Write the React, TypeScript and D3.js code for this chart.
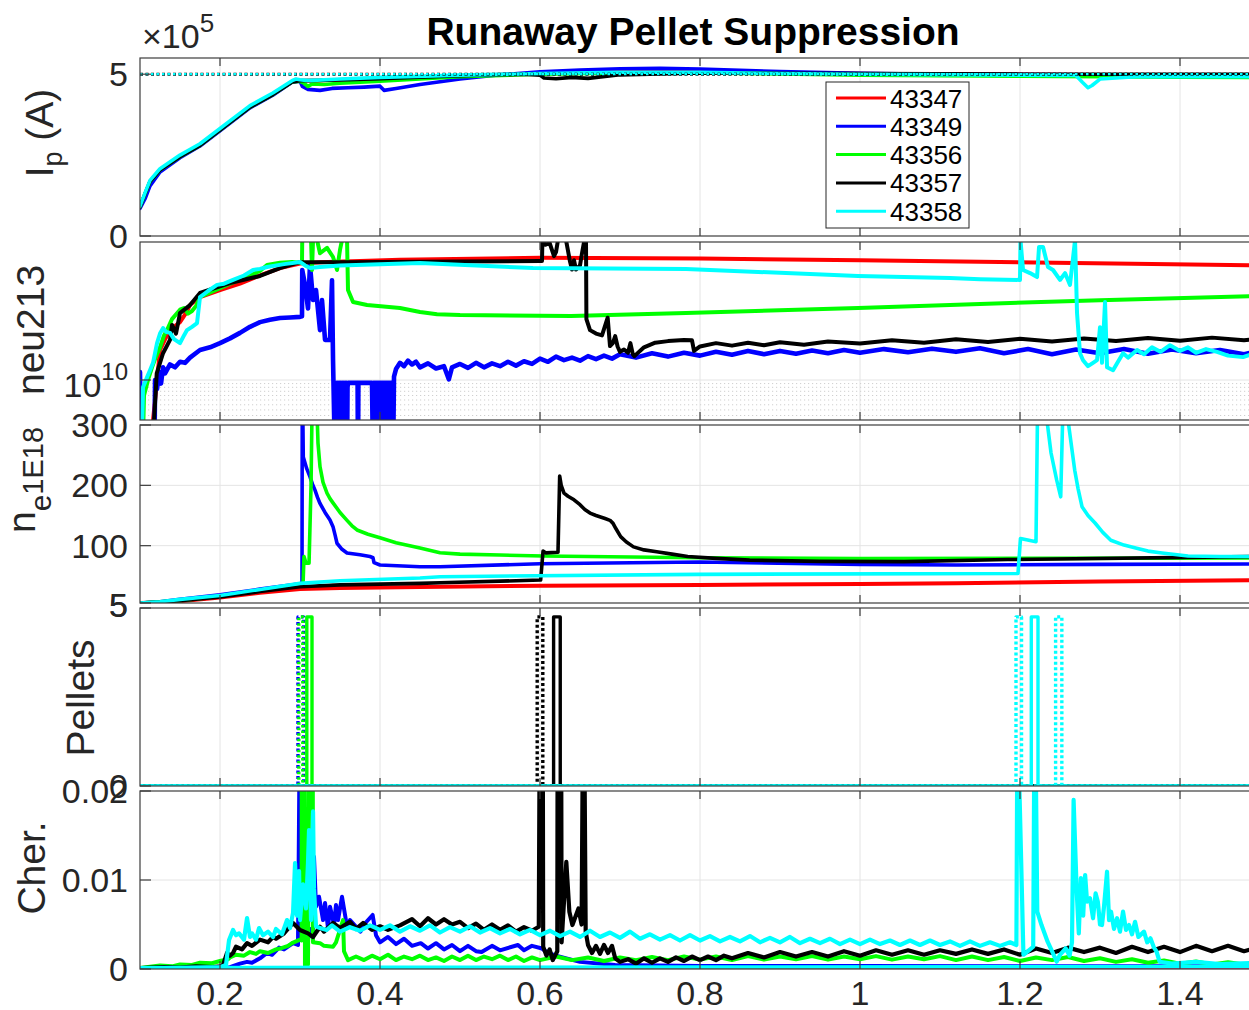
import React, { useEffect, useRef } from 'react';
import * as d3 from 'd3';

type Pt = [number, number];

const shots = ['43347', '43349', '43356', '43357', '43358'];
const shotColors = ['#ff0000', '#0000ff', '#00ff00', '#000000', '#00ffff'];
const xTickValues = [0.2, 0.4, 0.6, 0.8, 1, 1.2, 1.4];
const xTickLabels = ['0.2', '0.4', '0.6', '0.8', '1', '1.2', '1.4'];

// ---------- Panel 1: plasma current (units of 1e5 A) ----------
const ipRed: Pt[] = [[0.1,0.9],[0.1063,1.3],[0.1125,1.68],[0.125,2.04],[0.15,2.45],[0.175,2.8],[0.2,3.27],[0.2375,3.98],[0.266,4.37],[0.29,4.76],[0.3,4.79],[0.31,4.78],[0.35,4.83],[0.4,4.88],[0.5,4.95],[0.6,5.02],[0.7,5.07],[0.8,5.08],[0.9,5.05],[1.0,5.02],[1.1,5.0],[1.2,5.0],[1.3,4.98],[1.4,4.97],[1.5,4.95]];
const ipBlue: Pt[] = [[0.1,0.85],[0.1063,1.15],[0.1125,1.55],[0.125,1.98],[0.15,2.42],[0.175,2.78],[0.2,3.25],[0.2375,3.96],[0.266,4.35],[0.29,4.75],[0.3,4.78],[0.303,4.62],[0.31,4.53],[0.325,4.5],[0.34,4.56],[0.36,4.58],[0.38,4.6],[0.4,4.63],[0.405,4.5],[0.42,4.56],[0.45,4.68],[0.5,4.85],[0.55,4.98],[0.6,5.07],[0.65,5.13],[0.7,5.17],[0.75,5.18],[0.8,5.16],[0.85,5.12],[0.9,5.08],[1.0,5.03],[1.1,5.0],[1.2,4.99],[1.3,4.98],[1.4,4.97],[1.5,4.96]];
const ipGreen: Pt[] = [[0.1,0.9],[0.1063,1.3],[0.1125,1.68],[0.125,2.04],[0.15,2.45],[0.175,2.8],[0.2,3.27],[0.2375,3.98],[0.266,4.37],[0.29,4.76],[0.3,4.78],[0.305,4.72],[0.31,4.62],[0.315,4.7],[0.33,4.68],[0.35,4.72],[0.4,4.78],[0.45,4.85],[0.5,4.92],[0.6,5.0],[0.7,5.04],[0.8,5.04],[0.9,5.01],[1.0,4.97],[1.2,4.94],[1.4,4.91],[1.5,4.9]];
const ipBlack: Pt[] = [[0.1,0.9],[0.1063,1.3],[0.1125,1.68],[0.125,2.04],[0.15,2.45],[0.175,2.8],[0.2,3.27],[0.2375,3.98],[0.266,4.37],[0.29,4.76],[0.3,4.8],[0.35,4.82],[0.4,4.86],[0.5,4.95],[0.58,5.0],[0.6,4.97],[0.605,4.88],[0.62,4.86],[0.64,4.9],[0.66,4.87],[0.7,4.98],[0.8,5.04],[0.9,5.03],[1.0,5.02],[1.2,5.0],[1.5,5.0]];
const ipCyan: Pt[] = [[0.1,0.92],[0.1063,1.33],[0.1125,1.72],[0.125,2.08],[0.15,2.5],[0.175,2.85],[0.2,3.32],[0.2375,4.03],[0.266,4.42],[0.29,4.8],[0.295,4.85],[0.3,4.83],[0.31,4.8],[0.35,4.85],[0.4,4.9],[0.5,4.97],[0.6,5.02],[0.7,5.06],[0.8,5.06],[0.9,5.02],[1.0,5.0],[1.2,4.97],[1.27,4.96],[1.278,4.75],[1.285,4.58],[1.29,4.65],[1.3,4.85],[1.35,4.93],[1.5,4.92]];
const ipTarget: Pt[] = [[0.1,5],[1.5,5]];

// ---------- Panel 2: neu213 (units of 1e10, log axis) ----------
const neuRed: Pt[] = [[0.1,0.3],[0.116,0.3],[0.1163,0.56],[0.1213,1.0],[0.125,1.54],[0.131,1.78],[0.1375,2.05],[0.15,2.3],[0.156,2.55],[0.1625,2.94],[0.175,3.3],[0.2,3.65],[0.225,4.0],[0.25,4.5],[0.275,5.0],[0.3,5.35],[0.325,5.45],[0.425,5.65],[0.6,5.8],[0.8,5.75],[1.0,5.6],[1.175,5.47],[1.5,5.2]];
const neuBlue: Pt[] = [[0.1,1.12],[0.1013,0.3],[0.118,0.3],[0.1188,1.0],[0.1213,0.88],[0.1238,1.12],[0.1263,0.95],[0.1288,1.2],[0.1313,1.1],[0.1375,1.25],[0.1438,1.2],[0.15,1.3],[0.1563,1.28],[0.1625,1.38],[0.175,1.54],[0.1875,1.6],[0.2,1.7],[0.2125,1.82],[0.225,1.97],[0.2375,2.15],[0.25,2.3],[0.2625,2.38],[0.275,2.44],[0.2875,2.46],[0.3,2.48],[0.3025,2.5],[0.3028,4.87],[0.3063,3.93],[0.31,2.8],[0.3125,5.2],[0.3163,3.16],[0.32,3.65],[0.325,2.05],[0.3275,3.16],[0.3313,1.78],[0.3375,1.78],[0.34,4.2],[0.3413,1.33],[0.3438,0.3],[0.3444,0.96],[0.345,0.3],[0.3456,0.9],[0.3463,0.3],[0.3469,0.96],[0.3475,0.3],[0.3481,0.85],[0.3488,0.3],[0.3494,0.96],[0.35,0.3],[0.3506,0.96],[0.3513,0.3],[0.3519,0.9],[0.3525,0.3],[0.3531,0.96],[0.3538,0.3],[0.3544,0.96],[0.355,0.3],[0.3556,0.8],[0.3563,0.3],[0.3569,0.96],[0.3575,0.3],[0.3581,0.96],[0.3588,0.3],[0.3594,0.9],[0.36,0.96],[0.372,0.96],[0.3725,0.3],[0.373,0.96],[0.39,0.96],[0.3913,0.3],[0.3919,0.96],[0.3925,0.3],[0.3931,0.96],[0.3938,0.3],[0.3944,0.96],[0.395,0.3],[0.3956,0.96],[0.3963,0.3],[0.3969,0.96],[0.3975,0.3],[0.3981,0.96],[0.3988,0.3],[0.3994,0.96],[0.4,0.3],[0.4006,0.96],[0.4013,0.3],[0.4019,0.96],[0.4025,0.3],[0.4031,0.96],[0.4038,0.3],[0.4044,0.96],[0.405,0.3],[0.4056,0.96],[0.4063,0.3],[0.4069,0.96],[0.4075,0.3],[0.4081,0.96],[0.4088,0.3],[0.4094,0.96],[0.41,0.3],[0.4106,0.96],[0.4113,0.3],[0.4119,0.96],[0.4125,0.3],[0.4131,0.96],[0.4138,0.3],[0.4144,0.96],[0.415,0.3],[0.4156,0.96],[0.4163,0.3],[0.4175,1.05],[0.42,1.17],[0.425,1.28],[0.43,1.22],[0.435,1.32],[0.44,1.25],[0.445,1.3],[0.45,1.2],[0.46,1.27],[0.47,1.18],[0.48,1.22],[0.486,1.01],[0.49,1.2],[0.5,1.26],[0.51,1.19],[0.52,1.28],[0.53,1.2],[0.54,1.27],[0.55,1.22],[0.56,1.3],[0.57,1.23],[0.58,1.31],[0.59,1.26],[0.6,1.36],[0.61,1.3],[0.62,1.4],[0.63,1.33],[0.64,1.38],[0.65,1.32],[0.66,1.41],[0.67,1.35],[0.68,1.42],[0.69,1.36],[0.7,1.45],[0.72,1.38],[0.74,1.47],[0.76,1.4],[0.78,1.48],[0.8,1.42],[0.82,1.5],[0.84,1.44],[0.86,1.52],[0.88,1.45],[0.9,1.52],[0.92,1.46],[0.94,1.53],[0.96,1.47],[0.98,1.54],[1.0,1.48],[1.03,1.56],[1.06,1.49],[1.09,1.57],[1.12,1.5],[1.15,1.58],[1.18,1.47],[1.21,1.56],[1.24,1.45],[1.27,1.55],[1.3,1.47],[1.33,1.56],[1.36,1.46],[1.39,1.55],[1.42,1.47],[1.45,1.54],[1.48,1.45],[1.5,1.52]];
const neuGreen: Pt[] = [[0.1,0.3],[0.103,0.3],[0.105,0.8],[0.11,1.0],[0.115,1.2],[0.12,1.4],[0.125,1.6],[0.13,1.9],[0.1338,2.05],[0.14,2.4],[0.15,2.75],[0.155,2.82],[0.16,2.6],[0.165,2.7],[0.17,2.9],[0.175,3.3],[0.2,3.75],[0.2125,4.0],[0.225,4.22],[0.25,4.8],[0.2588,5.23],[0.275,5.4],[0.29,5.47],[0.3,5.4],[0.3025,5.47],[0.3028,7.5],[0.3138,7.5],[0.315,4.87],[0.3163,7.5],[0.3213,7.5],[0.325,6.2],[0.3338,6.7],[0.3413,5.87],[0.3463,4.87],[0.35,6.5],[0.3525,7.5],[0.3588,7.5],[0.36,3.65],[0.3663,3.07],[0.3838,2.94],[0.425,2.82],[0.45,2.66],[0.4713,2.58],[0.5,2.55],[0.6388,2.51],[0.7825,2.62],[0.9975,2.82],[1.1125,2.94],[1.15,2.99],[1.3,3.15],[1.5,3.35]];
const neuBlack: Pt[] = [[0.1,0.3],[0.1146,0.3],[0.1209,1.1],[0.1288,1.47],[0.1375,1.78],[0.14,2.21],[0.145,1.95],[0.15,2.62],[0.1625,2.94],[0.175,3.5],[0.2125,4.04],[0.25,4.47],[0.275,5.0],[0.3,5.45],[0.35,5.45],[0.5,5.5],[0.6,5.55],[0.6025,5.55],[0.603,7.5],[0.607,7.0],[0.612,7.2],[0.6175,5.95],[0.62,6.3],[0.6225,7.5],[0.6325,7.5],[0.6375,5.5],[0.64,4.9],[0.6425,5.6],[0.645,4.9],[0.65,5.2],[0.6525,6.2],[0.6555,7.5],[0.6575,7.5],[0.658,2.4],[0.6625,2.05],[0.67,1.95],[0.6775,1.9],[0.6846,2.45],[0.6875,1.63],[0.691,1.7],[0.694,1.88],[0.697,1.62],[0.7,1.5],[0.705,1.55],[0.71,1.48],[0.713,1.7],[0.716,1.45],[0.718,1.41],[0.73,1.6],[0.744,1.71],[0.76,1.75],[0.78,1.78],[0.79,1.77],[0.7925,1.52],[0.8,1.62],[0.82,1.7],[0.84,1.64],[0.86,1.71],[0.88,1.65],[0.9,1.72],[0.93,1.66],[0.96,1.74],[1.0,1.69],[1.04,1.77],[1.08,1.71],[1.12,1.8],[1.16,1.73],[1.2,1.81],[1.24,1.74],[1.28,1.82],[1.32,1.75],[1.36,1.83],[1.4,1.76],[1.44,1.84],[1.48,1.77],[1.5,1.82]];
const neuCyan: Pt[] = [[0.1,0.3],[0.1015,0.3],[0.1038,0.9],[0.1088,1.04],[0.1125,1.15],[0.1163,1.28],[0.1213,1.7],[0.125,1.95],[0.1288,2.11],[0.1325,2.0],[0.1375,1.97],[0.1425,1.8],[0.15,1.7],[0.155,1.9],[0.1588,2.05],[0.165,2.15],[0.1713,2.27],[0.175,3.3],[0.185,3.6],[0.1963,3.93],[0.205,4.0],[0.2163,4.22],[0.23,4.5],[0.2413,4.87],[0.25,4.95],[0.2588,5.08],[0.28,5.3],[0.3,5.47],[0.3063,5.2],[0.3125,5.01],[0.325,5.08],[0.35,5.2],[0.45,5.38],[0.5913,5.01],[0.7825,4.94],[0.9975,4.47],[1.1125,4.34],[1.15,4.27],[1.2,4.22],[1.2006,7.5],[1.2038,4.87],[1.2125,4.66],[1.2213,4.4],[1.2238,6.78],[1.2288,6.78],[1.235,5.08],[1.2413,4.87],[1.25,4.22],[1.2563,4.66],[1.2625,3.93],[1.2688,7.5],[1.2713,2.62],[1.275,1.47],[1.2788,1.33],[1.285,1.22],[1.2913,1.28],[1.2963,1.33],[1.3,2.14],[1.3025,1.28],[1.3063,3.07],[1.3088,1.2],[1.3163,1.15],[1.3225,1.3],[1.3288,1.47],[1.335,1.38],[1.3463,1.54],[1.355,1.45],[1.365,1.6],[1.3755,1.5],[1.3875,1.65],[1.4,1.52],[1.41,1.6],[1.42,1.48],[1.4325,1.56],[1.4463,1.5],[1.46,1.42],[1.4788,1.39],[1.49,1.45],[1.5,1.4]];

// ---------- Panel 3: density (1e18 m^-3) ----------
const neRed: Pt[] = [[0.1,5],[0.125,6],[0.15,8],[0.2,14],[0.25,22],[0.3,28],[0.35,30],[0.45,31.5],[0.6,33.5],[0.8,34.8],[1.0,36.5],[1.12,37.6],[1.3,40.5],[1.5,43]];
const neBlue: Pt[] = [[0.1,5],[0.125,7],[0.15,11],[0.2,18.5],[0.25,28],[0.3,37],[0.3025,38],[0.3028,320],[0.3035,320],[0.3041,247],[0.3083,228],[0.3125,214],[0.3156,202],[0.31875,192],[0.3219,180],[0.325,170],[0.3313,155],[0.3375,142.5],[0.34125,131.5],[0.3438,118],[0.34625,104],[0.3525,94],[0.35875,88],[0.375,85],[0.3875,82],[0.39125,80],[0.3925,72],[0.4,68],[0.45,65],[0.475,65.2],[0.6,70],[0.8,73],[1.0,69],[1.12,68],[1.3,69],[1.5,69.6]];
const neGreen: Pt[] = [[0.1,5],[0.15,9],[0.2,16],[0.25,26],[0.3,35],[0.3038,36],[0.305,82],[0.3075,71],[0.3113,71],[0.3138,200],[0.315,320],[0.3213,320],[0.3225,270],[0.325,231],[0.3288,205],[0.33375,187],[0.3375,178],[0.34125,171],[0.35,155],[0.35875,142],[0.365,133],[0.37125,126],[0.385,119],[0.4,113],[0.42,105],[0.45,96],[0.475,88.4],[0.5,86],[0.55,84.5],[0.604,83],[0.7975,80],[1.0,78.5],[1.2,79],[1.5,79.5]];
const neBlack: Pt[] = [[0.1,5],[0.125,6.5],[0.15,9],[0.2,15],[0.25,24],[0.3,32],[0.35,35],[0.45,37.5],[0.475,38.6],[0.6008,43],[0.6038,91],[0.6075,88],[0.6225,89],[0.6246,215.5],[0.6265,200],[0.63,187],[0.635,182],[0.6425,176],[0.65,168],[0.656,160],[0.6625,154],[0.67,150],[0.6813,145],[0.6875,142],[0.6913,137],[0.695,128],[0.7008,115],[0.708,106],[0.7169,98],[0.73,93],[0.7459,90],[0.765,86],[0.7846,82],[0.82,79],[0.862,76],[0.95,74],[1.055,73.5],[1.1845,77],[1.5,82]];
const neCyan: Pt[] = [[0.1,5],[0.125,7],[0.15,11],[0.2,17.5],[0.25,27.5],[0.3,37.5],[0.35,42],[0.45,46.5],[0.475,48.6],[0.7975,52.5],[1.1975,54],[1.2006,112],[1.22,106.6],[1.2219,320],[1.2325,320],[1.2388,253.6],[1.2458,209],[1.2509,181],[1.2535,320],[1.2588,320],[1.2684,225],[1.2725,195],[1.2775,164.6],[1.285,150],[1.2938,137.6],[1.3035,122],[1.3135,109],[1.33,101],[1.3458,95.6],[1.36,91],[1.3775,88],[1.41,83],[1.45,82],[1.5,82]];

// ---------- Panel 4: pellets (solid = fired, dotted = requested) ----------
const pelRedSolid: Pt[] = [[0.1,0],[1.5,0]];
const pelBlueSolid: Pt[] = [[0.1,0],[1.5,0]];
const pelBlueDot: Pt[] = [[0.1,0],[0.2975,0],[0.2975,4.75],[0.3045,4.75],[0.3045,0],[1.5,0]];
const pelGreenSolid: Pt[] = [[0.1,0],[0.3085,0],[0.3085,4.75],[0.315,4.75],[0.315,0],[1.5,0]];
const pelGreenDot: Pt[] = [[0.1,0],[0.2985,0],[0.2985,4.75],[0.3035,4.75],[0.3035,0],[1.5,0]];
const pelBlackSolid: Pt[] = [[0.1,0],[0.617,0],[0.617,4.75],[0.6253,4.75],[0.6253,0],[1.5,0]];
const pelBlackDot: Pt[] = [[0.1,0],[0.5965,0],[0.5965,4.75],[0.6035,4.75],[0.6035,0],[1.5,0]];
const pelCyanSolid: Pt[] = [[0.1,0],[1.2141,0],[1.2141,4.75],[1.2225,4.75],[1.2225,0],[1.5,0]];
const pelCyanDot: Pt[] = [[0.1,0],[1.195,0],[1.195,4.75],[1.2019,4.75],[1.2019,0],[1.2445,0],[1.2445,4.75],[1.2523,4.75],[1.2523,0],[1.5,0]];

// ---------- Panel 5: Cherenkov (values x 1e-3) ----------
const cherRed: Pt[] = [[0.1,0.1],[0.3,0.12],[0.6,0.1],[0.9,0.12],[1.2,0.2],[1.5,0.25]];
const cherBlue: Pt[] = [[0.1,0.1],[0.2,0.1],[0.2125,0.2],[0.225,0.6],[0.2338,0.8],[0.24,0.7],[0.25,1.2],[0.2588,1.8],[0.265,1.6],[0.2738,2.4],[0.28,2.2],[0.2913,2.9],[0.2975,2.7],[0.2995,25],[0.3035,25],[0.304,5.0],[0.31,3.3],[0.3125,4.5],[0.3163,3.5],[0.3175,12.6],[0.32,7.0],[0.3238,8.12],[0.3288,5.5],[0.3313,7.42],[0.335,4.6],[0.3375,7.0],[0.3425,5.0],[0.345,7.2],[0.3475,5.5],[0.3525,8.12],[0.3588,4.75],[0.3625,5.5],[0.3756,4.2],[0.38,5.0],[0.3908,6.07],[0.395,3.8],[0.4,3.0],[0.41,3.6],[0.42,2.8],[0.43,3.4],[0.44,2.6],[0.451,2.9],[0.46,2.3],[0.47,2.9],[0.48,2.2],[0.49,2.7],[0.5,2.0],[0.51,2.6],[0.52,2.0],[0.527,1.9],[0.54,2.6],[0.55,2.1],[0.5725,2.7],[0.58,2.1],[0.59,2.6],[0.6025,2.3],[0.61,1.8],[0.62,1.5],[0.633,1.2],[0.65,0.8],[0.694,0.45],[0.8,0.35],[1.0,0.35],[1.2,0.3],[1.5,0.3]];
const cherGreen: Pt[] = [[0.1,0.1],[0.125,0.4],[0.14,0.3],[0.15,0.5],[0.165,0.45],[0.175,0.7],[0.19,0.65],[0.2,0.9],[0.21,1.1],[0.2125,1.3],[0.22,1.6],[0.23,1.5],[0.2375,1.9],[0.245,1.7],[0.25,2.0],[0.26,1.8],[0.27,2.2],[0.275,2.3],[0.285,2.6],[0.29,2.9],[0.3,3.3],[0.302,3.2],[0.3022,25],[0.306,25],[0.3062,0.4],[0.31,0.5],[0.3115,25],[0.316,25],[0.3162,3.0],[0.325,2.9],[0.33,2.6],[0.3413,2.5],[0.345,3.0],[0.3538,5.5],[0.355,2.0],[0.36,1.0],[0.37,1.4],[0.38,1.0],[0.39,1.5],[0.4,1.1],[0.41,1.6],[0.42,1.0],[0.43,1.4],[0.44,1.1],[0.45,1.5],[0.46,1.0],[0.47,1.3],[0.48,0.9],[0.49,1.4],[0.5,1.0],[0.51,1.5],[0.52,1.0],[0.53,1.4],[0.54,1.1],[0.55,1.5],[0.56,1.0],[0.57,1.4],[0.58,0.9],[0.59,1.3],[0.6,1.0],[0.62,1.4],[0.64,1.0],[0.66,1.3],[0.68,0.9],[0.7,1.3],[0.72,1.0],[0.74,1.35],[0.76,1.0],[0.78,1.4],[0.8,1.05],[0.82,1.4],[0.84,1.0],[0.86,1.45],[0.88,1.05],[0.9,1.4],[0.92,1.1],[0.94,1.45],[0.96,1.05],[0.98,1.4],[1.0,1.1],[1.02,1.45],[1.04,1.05],[1.06,1.4],[1.08,1.1],[1.1,1.45],[1.12,1.0],[1.14,1.4],[1.16,1.0],[1.18,1.35],[1.2,0.9],[1.22,1.3],[1.24,1.0],[1.26,1.35],[1.28,0.9],[1.3,1.2],[1.32,0.8],[1.34,1.1],[1.36,0.7],[1.38,0.95],[1.4,0.6],[1.42,0.85],[1.44,0.5],[1.46,0.75],[1.48,0.5],[1.5,0.7]];
const cherBlack: Pt[] = [[0.1,0.1],[0.13,0.2],[0.15,0.15],[0.17,0.3],[0.19,0.2],[0.2,0.3],[0.2038,0.45],[0.2088,1.8],[0.2125,1.5],[0.2163,1.8],[0.22,2.5],[0.2275,2.2],[0.2338,2.9],[0.24,2.6],[0.25,3.3],[0.26,3.0],[0.2663,3.6],[0.27,3.4],[0.28,4.0],[0.2913,5.17],[0.3,4.38],[0.31,4.0],[0.3163,3.6],[0.325,4.75],[0.33,4.2],[0.3413,5.17],[0.35,4.6],[0.3625,5.3],[0.37,4.5],[0.3788,5.17],[0.39,4.4],[0.4,4.8],[0.41,4.4],[0.425,4.9],[0.44,5.6],[0.45,4.8],[0.46,5.7],[0.47,5.0],[0.48,5.6],[0.49,5.0],[0.5,5.3],[0.51,4.6],[0.52,5.1],[0.53,4.4],[0.54,5.0],[0.55,4.4],[0.56,4.9],[0.57,4.2],[0.58,4.7],[0.59,4.3],[0.5985,4.75],[0.5995,25],[0.6035,25],[0.604,2.5],[0.608,1.5],[0.612,2.2],[0.616,1.0],[0.6216,2.0],[0.622,25],[0.6265,25],[0.627,3.0],[0.6329,12.05],[0.6367,6.44],[0.6405,4.94],[0.6481,6.8],[0.652,5.0],[0.6535,25],[0.6555,25],[0.6571,4.2],[0.66,2.7],[0.665,1.8],[0.67,2.6],[0.675,1.7],[0.68,2.7],[0.685,1.8],[0.69,2.6],[0.694,1.2],[0.7,0.8],[0.71,1.1],[0.72,0.6],[0.73,1.2],[0.74,0.7],[0.75,1.2],[0.76,0.8],[0.77,1.3],[0.78,0.9],[0.79,1.4],[0.8,1.0],[0.81,1.4],[0.82,1.0],[0.83,1.5],[0.84,1.2],[0.86,1.8],[0.88,1.3],[0.9,1.9],[0.92,1.4],[0.94,1.9],[0.96,1.4],[0.98,2.0],[1.0,1.5],[1.02,2.1],[1.04,1.6],[1.06,2.1],[1.08,1.6],[1.1,2.1],[1.12,1.7],[1.14,2.2],[1.16,1.7],[1.18,2.2],[1.2,1.6],[1.22,2.3],[1.24,1.8],[1.26,2.4],[1.28,1.9],[1.3,2.4],[1.32,1.8],[1.34,2.5],[1.36,1.9],[1.38,2.5],[1.4,1.9],[1.42,2.6],[1.44,2.0],[1.46,2.6],[1.48,2.0],[1.5,2.5]];
const cherCyan: Pt[] = [[0.1,0.1],[0.15,0.12],[0.2,0.2],[0.2075,0.45],[0.2113,3.26],[0.2163,4.38],[0.22,3.8],[0.2238,4.0],[0.23,3.3],[0.2338,5.73],[0.2375,3.6],[0.24,4.0],[0.245,3.3],[0.2488,4.6],[0.2538,3.8],[0.26,4.2],[0.2663,3.6],[0.27,4.5],[0.2775,3.9],[0.2838,5.5],[0.2875,4.6],[0.2913,6.3],[0.2938,11.9],[0.2963,6.0],[0.2988,11.0],[0.3,5.5],[0.3038,9.5],[0.3075,6.8],[0.31,11.9],[0.3113,15.6],[0.3138,5.5],[0.3163,17.7],[0.3175,9.0],[0.32,4.8],[0.325,4.6],[0.3333,4.38],[0.34,4.9],[0.35,4.2],[0.3625,4.7],[0.375,4.3],[0.3875,4.9],[0.4,4.4],[0.4125,4.9],[0.425,4.2],[0.4375,4.8],[0.45,4.3],[0.4625,4.9],[0.475,4.1],[0.4875,4.7],[0.5,4.2],[0.5125,4.8],[0.525,4.1],[0.5375,4.6],[0.55,4.0],[0.5625,4.5],[0.575,3.9],[0.5875,4.4],[0.6,3.8],[0.6125,4.3],[0.625,3.7],[0.6375,4.2],[0.65,3.6],[0.6625,4.3],[0.675,3.6],[0.6875,4.1],[0.7,3.5],[0.7125,4.2],[0.725,3.4],[0.7375,3.9],[0.75,3.3],[0.7625,3.8],[0.775,3.2],[0.7875,3.8],[0.8,3.2],[0.8125,3.7],[0.825,3.1],[0.8375,3.6],[0.85,3.1],[0.8625,3.7],[0.875,3.0],[0.8875,3.5],[0.9,3.0],[0.9125,3.6],[0.925,2.9],[0.9375,3.4],[0.95,2.9],[0.9625,3.4],[0.975,2.8],[0.9875,3.3],[1.0,2.8],[1.0125,3.3],[1.025,2.8],[1.0375,3.2],[1.05,2.7],[1.0625,3.2],[1.075,2.7],[1.0875,3.2],[1.1,2.7],[1.1125,3.1],[1.125,2.6],[1.1375,3.1],[1.15,2.6],[1.1625,3.0],[1.175,2.6],[1.1875,3.0],[1.1955,2.7],[1.1966,25],[1.198,25],[1.2043,1.6],[1.21,2.0],[1.2165,2.5],[1.2179,25],[1.2195,25],[1.2216,6.44],[1.2269,4.94],[1.2345,3.07],[1.24,2.0],[1.2459,0.82],[1.25,1.6],[1.2571,2.33],[1.262,1.5],[1.265,3.0],[1.267,19.0],[1.2709,8.7],[1.2735,4.0],[1.2761,10.2],[1.279,6.0],[1.2814,10.56],[1.2838,7.56],[1.2875,7.94],[1.2913,5.7],[1.2945,8.5],[1.2973,7.56],[1.3,5.0],[1.3025,4.94],[1.305,7.0],[1.3088,10.93],[1.3113,5.5],[1.3138,6.44],[1.3175,4.5],[1.3213,5.7],[1.325,4.2],[1.3288,6.44],[1.3325,4.4],[1.3363,4.94],[1.34,3.9],[1.3438,5.3],[1.348,3.6],[1.355,4.2],[1.359,3.0],[1.3631,3.45],[1.3675,2.4],[1.3706,1.97],[1.3745,0.82],[1.39,0.6],[1.42,0.8],[1.45,0.55],[1.5,0.7]];
const cherCyanBase: Pt[] = [[0.1,0.15],[0.4,0.2],[0.8,0.22],[1.2,0.25],[1.5,0.3]];

const FONT = "'Liberation Sans', Arial, Helvetica, sans-serif";
const TXT = '#262626';

export default function App() {
  const ref = useRef<SVGSVGElement>(null);

  useEffect(() => {
    const svg = d3.select(ref.current as SVGSVGElement);
    svg.selectAll('*').remove();

    const L = 140, R = 1260;
    const x = d3.scaleLinear().domain([0.1, 1.5]).range([L, R]);

    const yIp = d3.scaleLinear().domain([0, 5.5]).range([236, 58]);
    const yNeu = d3.scaleLog().domain([Math.pow(10, -0.25), Math.pow(10, 0.8625)]).range([420, 242]);
    const yNe = d3.scaleLinear().domain([5, 300]).range([603, 425]);
    const yPel = d3.scaleLinear().domain([0, 5]).range([786, 608]);
    const yCher = d3.scaleLinear().domain([0, 0.02]).range([969, 791]);

    // labelShift nudges the two coinciding "5" labels at the ne/pellet boundary onto one spot
    const panels = [
      { id: 'ip', y: yIp, top: 58, bottom: 236, ticks: [0, 5], labels: ['0', '5'], labelShift: [0, 0], grid: [] as number[] },
      { id: 'neu', y: yNeu, top: 242, bottom: 420, ticks: [1], labels: ['10^10'], labelShift: [0], grid: [1] },
      { id: 'ne', y: yNe, top: 425, bottom: 603, ticks: [5, 100, 200, 300], labels: ['5', '100', '200', '300'], labelShift: [2, 0, 0, 0], grid: [100, 200] },
      { id: 'pel', y: yPel, top: 608, bottom: 786, ticks: [0, 5], labels: ['0', '5'], labelShift: [0, -3], grid: [] as number[] },
      { id: 'cher', y: yCher, top: 791, bottom: 969, ticks: [0, 0.01, 0.02], labels: ['0', '0.01', '0.02'], labelShift: [0, 0, 0], grid: [0.01] },
    ];

    const defs = svg.append('defs');
    panels.forEach((p) => {
      defs.append('clipPath').attr('id', 'clip-' + p.id)
        .append('rect').attr('x', L).attr('y', p.top).attr('width', R - L).attr('height', p.bottom - p.top);
    });

    svg.append('rect').attr('x', 0).attr('y', 0).attr('width', 1249).attr('height', 1010).attr('fill', '#fff');

    // grids
    panels.forEach((p) => {
      const g = svg.append('g');
      xTickValues.forEach((t) => {
        g.append('line').attr('x1', x(t)).attr('x2', x(t)).attr('y1', p.top).attr('y2', p.bottom)
          .attr('stroke', '#e4e4e4').attr('stroke-width', 1);
      });
      p.grid.forEach((v) => {
        g.append('line').attr('x1', L).attr('x2', R).attr('y1', (p.y as any)(v)).attr('y2', (p.y as any)(v))
          .attr('stroke', '#e4e4e4').attr('stroke-width', 1);
      });
      if (p.id === 'neu') {
        const minor = [0.6, 0.65, 0.7, 0.75, 0.8, 0.85, 0.9, 0.95];
        minor.forEach((v) => {
          g.append('line').attr('x1', L).attr('x2', R).attr('y1', yNeu(v)).attr('y2', yNeu(v))
            .attr('stroke', '#cfcfcf').attr('stroke-width', 1).attr('stroke-dasharray', '1.2 2.8');
        });
      }
    });

    const drawSeries = (panelId: string, yScale: any, data: Pt[], color: string, width = 3, dash: string | null = null, factor = 1) => {
      const line = d3.line<Pt>().x((d) => x(d[0])).y((d) => yScale(d[1] * factor));
      const path = svg.append('g').attr('clip-path', `url(#clip-${panelId})`)
        .append('path').datum(data).attr('d', line as any)
        .attr('fill', 'none').attr('stroke', color).attr('stroke-width', width)
        .attr('stroke-linejoin', 'round').attr('stroke-linecap', dash ? 'butt' : 'round');
      if (dash) path.attr('stroke-dasharray', dash);
    };

    // Panel 1
    [ipRed, ipBlue, ipGreen, ipBlack, ipCyan].forEach((d, i) => drawSeries('ip', yIp, d, shotColors[i], 3.6));
    drawSeries('ip', yIp, ipTarget, shotColors[3], 3, '3 2.5');
    drawSeries('ip', yIp, ipTarget, shotColors[4], 2.2, '2.5 3');

    // Panel 2
    [neuRed, neuBlue, neuGreen, neuBlack, neuCyan].forEach((d, i) => drawSeries('neu', yNeu, d, shotColors[i], i === 1 ? 4.6 : 4));

    // Panel 3
    [neRed, neBlue, neGreen, neBlack, neCyan].forEach((d, i) => drawSeries('ne', yNe, d, shotColors[i], i === 0 ? 4 : 3.6));

    // Panel 4
    drawSeries('pel', yPel, pelRedSolid, shotColors[0], 3.4);
    drawSeries('pel', yPel, pelBlueSolid, shotColors[1], 3.4);
    drawSeries('pel', yPel, pelBlueDot, shotColors[1], 3.4, '3 2.5');
    drawSeries('pel', yPel, pelGreenSolid, shotColors[2], 3.4);
    drawSeries('pel', yPel, pelGreenDot, shotColors[2], 3.4, '2.5 3');
    drawSeries('pel', yPel, pelBlackSolid, shotColors[3], 3.4);
    drawSeries('pel', yPel, pelBlackDot, shotColors[3], 3.4, '3 2.5');
    drawSeries('pel', yPel, pelCyanSolid, shotColors[4], 3.4);
    drawSeries('pel', yPel, pelCyanDot, shotColors[4], 3.4, '3 2.5');

    // Panel 5
    const f = 0.001;
    drawSeries('cher', yCher, cherRed, shotColors[0], 3.6, null, f);
    drawSeries('cher', yCher, cherBlue, shotColors[1], 4, null, f);
    drawSeries('cher', yCher, cherGreen, shotColors[2], 4, null, f);
    drawSeries('cher', yCher, cherBlack, shotColors[3], 4.2, null, f);
    drawSeries('cher', yCher, cherCyanBase, shotColors[4], 3.4, null, f);
    drawSeries('cher', yCher, cherCyan, shotColors[4], 4.2, null, f);

    // frames, ticks, labels
    panels.forEach((p) => {
      const g = svg.append('g');
      g.append('rect').attr('x', L).attr('y', p.top).attr('width', R - L).attr('height', p.bottom - p.top)
        .attr('fill', 'none').attr('stroke', '#3c3c3c').attr('stroke-width', 1.2);
      xTickValues.forEach((t) => {
        g.append('line').attr('x1', x(t)).attr('x2', x(t)).attr('y1', p.top).attr('y2', p.top + 8).attr('stroke', '#3c3c3c').attr('stroke-width', 1.2);
        g.append('line').attr('x1', x(t)).attr('x2', x(t)).attr('y1', p.bottom).attr('y2', p.bottom - 8).attr('stroke', '#3c3c3c').attr('stroke-width', 1.2);
      });
      p.ticks.forEach((v, i) => {
        const yy = (p.y as any)(v);
        g.append('line').attr('x1', L).attr('x2', L + 11).attr('y1', yy).attr('y2', yy).attr('stroke', '#3c3c3c').attr('stroke-width', 1.2);
        const lab = p.labels[i];
        if (lab === '10^10') {
          const t = g.append('text').attr('x', 128).attr('y', yy + 17).attr('text-anchor', 'end')
            .attr('font-family', FONT).attr('font-size', 34).attr('fill', TXT);
          t.append('tspan').text('10');
          t.append('tspan').attr('font-size', 24).attr('dy', -17).text('10');
        } else {
          g.append('text').attr('x', 128).attr('y', yy + 12 + p.labelShift[i]).attr('text-anchor', 'end')
            .attr('font-family', FONT).attr('font-size', 34).attr('fill', TXT).text(lab);
        }
      });
    });

    // x tick labels
    xTickValues.forEach((t, i) => {
      svg.append('text').attr('x', x(t)).attr('y', 1005).attr('text-anchor', 'middle')
        .attr('font-family', FONT).attr('font-size', 34).attr('fill', TXT).text(xTickLabels[i]);
    });

    // exponent label
    const ex = svg.append('text').attr('x', 142).attr('y', 48).attr('font-family', FONT).attr('font-size', 34).attr('fill', TXT);
    ex.append('tspan').text('\u00d710');
    ex.append('tspan').attr('font-size', 26).attr('dy', -16).text('5');

    // title
    svg.append('text').attr('x', 693).attr('y', 45).attr('text-anchor', 'middle')
      .attr('font-family', FONT).attr('font-weight', 'bold').attr('font-size', 39).attr('fill', '#000')
      .text('Runaway Pellet Suppression');

    // y labels
    const ylab = (bx: number, cy: number) => svg.append('text')
      .attr('transform', `translate(${bx},${cy}) rotate(-90)`).attr('text-anchor', 'middle')
      .attr('font-family', FONT).attr('font-size', 39).attr('fill', TXT);

    const l1 = ylab(53, 133);
    l1.append('tspan').text('I');
    l1.append('tspan').attr('font-size', 27).attr('dy', 9).text('p');
    l1.append('tspan').attr('dy', -9).text(' (A)');

    ylab(44, 330).text('neu213');

    const l3 = ylab(35, 480);
    l3.append('tspan').text('n');
    l3.append('tspan').attr('font-size', 30).attr('dy', 16).text('e');
    l3.append('tspan').attr('font-size', 29).attr('dy', -8).text('1E18');

    ylab(94, 698).text('Pellets');
    ylab(45, 868).text('Cher.');

    // legend
    const lg = svg.append('g');
    lg.append('rect').attr('x', 826).attr('y', 82).attr('width', 143).attr('height', 146)
      .attr('fill', '#fff').attr('stroke', '#262626').attr('stroke-width', 1);
    shots.forEach((s, i) => {
      const yy = 98 + i * 28.3;
      lg.append('line').attr('x1', 836).attr('x2', 886).attr('y1', yy).attr('y2', yy)
        .attr('stroke', shotColors[i]).attr('stroke-width', 3);
      lg.append('text').attr('x', 890).attr('y', yy + 9.5).attr('font-family', FONT).attr('font-size', 26)
        .attr('fill', '#000').text(s);
    });
  }, []);

  return (
    <svg ref={ref} width={1249} height={1010}
      style={{ position: 'absolute', left: 0, top: 0, display: 'block', background: '#fff' }} />
  );
}
